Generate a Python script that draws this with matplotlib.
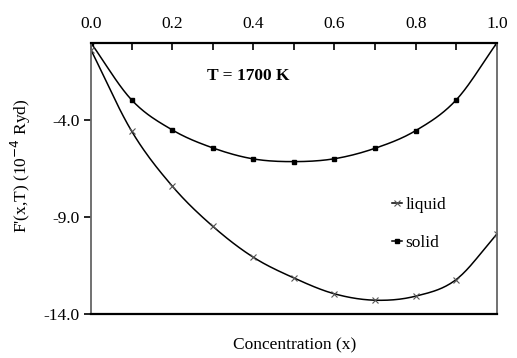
import matplotlib
matplotlib.use('Agg')
import matplotlib.pyplot as plt
import numpy as np

# concentration and free energy values (10^-4 Ryd)
conc = [0.0, 0.1, 0.2, 0.3, 0.4, 0.5, 0.6, 0.7, 0.8, 0.9, 1.0]
liquid = [-0.36, -4.55, -7.39, -9.47, -11.07, -12.14, -12.96, -13.29, -13.08, -12.22, -9.87]
solid = [0.0, -2.94, -4.49, -5.42, -5.99, -6.13, -5.98, -5.44, -4.53, -2.94, 0.0]


def smooth(x, y, n=20):
    # catmull-rom style curve through the points, like excel's smoothed line
    x = np.asarray(x, float)
    y = np.asarray(y, float)
    px = np.concatenate([[2 * x[0] - x[1]], x, [2 * x[-1] - x[-2]]])
    py = np.concatenate([[2 * y[0] - y[1]], y, [2 * y[-1] - y[-2]]])
    xs, ys = [], []
    t = np.linspace(0, 1, n, endpoint=False)
    for i in range(1, len(px) - 2):
        for p, out in ((px, xs), (py, ys)):
            p0, p1, p2, p3 = p[i - 1], p[i], p[i + 1], p[i + 2]
            out.extend(0.5 * (2 * p1 + (-p0 + p2) * t + (2 * p0 - 5 * p1 + 4 * p2 - p3) * t ** 2
                              + (-p0 + 3 * p1 - 3 * p2 + p3) * t ** 3))
    xs.append(x[-1])
    ys.append(y[-1])
    return xs, ys


plt.rcParams['font.family'] = ['Liberation Serif', 'DejaVu Serif']
fs = 12.5

fig = plt.figure(figsize=(5.17, 3.58), dpi=100)
ax = fig.add_axes([0.176, 0.123, 0.785, 0.757])

lx, ly = smooth(conc, liquid)
sx, sy = smooth(conc, solid)
ax.plot(lx, ly, color='black', lw=1.1)
ax.plot(sx, sy, color='black', lw=1.1)
ax.plot(conc, liquid, ls='none', marker='x', ms=4, mew=0.8, color='#555555')
ax.plot(conc, solid, ls='none', marker='s', ms=3, color='black')

# legend entries drawn as short proxies
ax.plot([], [], color='black', lw=1.1, marker='x', ms=4, mew=0.8, mec='#555555', label='liquid')
ax.plot([], [], color='black', lw=1.1, marker='s', ms=3, label='solid')
ax.legend(loc='upper left', bbox_to_anchor=(0.741, 0.432), frameon=False, fontsize=fs,
          handlelength=0.6, handletextpad=0.2, labelspacing=1.25, borderpad=0, borderaxespad=0)

ax.set_xlim(0, 1)
ax.set_ylim(-14, 0)
ax.set_xticks(np.arange(0, 1.01, 0.2))
ax.set_xticks(np.arange(0, 1.01, 0.1), minor=True)
ax.set_xticklabels(['0.0', '0.2', '0.4', '0.6', '0.8', '1.0'])
ax.xaxis.tick_top()
ax.tick_params(axis='x', which='both', direction='in', length=5, width=1.2, labelsize=fs, pad=8)
ax.set_yticks([-14, -9, -4])
ax.set_yticklabels(['-14.0', '-9.0', '-4.0'])
ax.tick_params(axis='y', direction='out', length=5, width=1.2, labelsize=fs, pad=3)

for s in ['top', 'bottom']:
    ax.spines[s].set_linewidth(1.6)
    ax.spines[s].set_color('black')
for s in ['left', 'right']:
    ax.spines[s].set_linewidth(1.3)
    ax.spines[s].set_color('#666666')

ax.text(0.387, 0.877, 'T = 1700 K', transform=ax.transAxes, fontsize=fs,
        fontweight='bold', ha='center', va='center')

fig.text(0.57, 0.036, 'Concentration (x)', ha='center', va='center', fontsize=fs)
fig.text(0.04, 0.536, "F'(x,T) (10$^{-4}$ Ryd)", rotation=90, ha='center', va='center', fontsize=fs)

fig.savefig('out.png', dpi=100)
